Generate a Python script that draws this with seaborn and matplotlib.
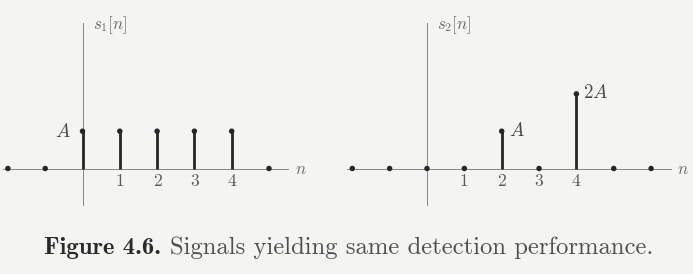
import matplotlib
matplotlib.use("Agg")
import matplotlib.pyplot as plt
import seaborn as sns

# ---- data ----
n1 = [-2, -1, 0, 1, 2, 3, 4, 5]
s1 = [0, 0, 1, 1, 1, 1, 1, 0]
n2 = [-2, -1, 0, 1, 2, 3, 4, 5, 6]
s2 = [0, 0, 0, 0, 1, 0, 2, 0, 0]
tick_vals = [1, 2, 3, 4]
tick_labels = ["1", "2", "3", "4"]
ylabels = [r"$s_1[n]$", r"$s_2[n]$"]
amp_labels_1 = {0: r"$A$"}
amp_labels_2 = {2: r"$A$", 4: r"$2A$"}
caption_bold = "Figure 4.6."
caption_text = "Signals yielding same detection performance."

sns.set_style("white")
plt.rcParams["mathtext.fontset"] = "cm"
plt.rcParams["axes.unicode_minus"] = False

BG = "#f4f4f2"
W, H = 693, 274
DPI = 72
fig = plt.figure(figsize=(W / DPI, H / DPI), dpi=DPI, facecolor=BG)

def px_axes(x0, y0, x1, y1):
    return fig.add_axes([x0 / W, 1 - y1 / H, (x1 - x0) / W, (y1 - y0) / H])

AX_Y = 168.5
UNIT_Y = 37.3

def draw(ax, n, s, hline, vline, ylabel, amps, amp_side, nlab_x):
    ax.vlines(n, 0, s, color="#262626", lw=2.8, zorder=3)
    sns.scatterplot(x=n, y=s, ax=ax, color="#262626", s=30, edgecolor="none",
                    zorder=4, legend=False)
    for sp in ["top", "right"]:
        ax.spines[sp].set_visible(False)
    ax.spines["bottom"].set_position(("data", 0))
    ax.spines["left"].set_position(("data", 0))
    ax.spines["bottom"].set_bounds(*hline)
    ax.spines["left"].set_bounds(*vline)
    for sp in ["bottom", "left"]:
        ax.spines[sp].set_color("#8a8a8a")
        ax.spines[sp].set_linewidth(1.0)
        ax.spines[sp].set_zorder(2)
    ax.set_xticks(tick_vals)
    ax.set_xticklabels(tick_labels, fontfamily="cmr10", fontsize=17.5, color="#5a5a5a")
    ax.tick_params(axis="x", length=0, pad=5.5)
    ax.set_yticks([])
    ax.text(0.27, (AX_Y - 25) / UNIT_Y, ylabel, fontsize=17, color="#6a6a6a",
            ha="left", va="center")
    ax.text(nlab_x, 0, r"$n$", fontsize=17, color="#6a6a6a", ha="left", va="center")
    for k, lab in amps.items():
        v = s[n.index(k)]
        if amp_side == "left":
            ax.annotate(lab, (k, v), xytext=(-12, 0), textcoords="offset points",
                        ha="right", va="center", fontsize=19, color="#4a4a4a")
        else:
            ax.annotate(lab, (k, v), xytext=(7, 1), textcoords="offset points",
                        ha="left", va="center", fontsize=19, color="#4a4a4a")

# left panel
ax1 = px_axes(0, 0, 340, 210)
ux1, z1 = 37.3, 82.5
ax1.set_xlim((0 - z1) / ux1, (340 - z1) / ux1)
ax1.set_ylim((AX_Y - 210) / UNIT_Y, AX_Y / UNIT_Y)
ax1.set_facecolor("none")
draw(ax1, n1, s1, ((3 - z1) / ux1, (288 - z1) / ux1),
     ((AX_Y - 205) / UNIT_Y, (AX_Y - 23) / UNIT_Y), ylabels[0], amp_labels_1, "left",
     (295 - z1) / ux1)

# right panel
ax2 = px_axes(340, 0, 693, 210)
ux2, z2 = 37.35, 427.0
ax2.set_xlim((340 - z2) / ux2, (693 - z2) / ux2)
ax2.set_ylim((AX_Y - 210) / UNIT_Y, AX_Y / UNIT_Y)
ax2.set_facecolor("none")
draw(ax2, n2, s2, ((347 - z2) / ux2, (671 - z2) / ux2),
     ((AX_Y - 205) / UNIT_Y, (AX_Y - 23) / UNIT_Y), ylabels[1], amp_labels_2, "right",
     (677 - z2) / ux2)

# caption
CAP_FS = 24.7
t1 = fig.text(44 / W, 1 - 254 / H, caption_bold, fontfamily="cmb10", fontsize=CAP_FS,
              color="#2a2a2a", ha="left", va="baseline")
fig.canvas.draw()
bb = t1.get_window_extent()
fig.text((bb.x1 + 9) / W, 1 - 254 / H, caption_text, fontfamily="cmr10", fontsize=CAP_FS,
         color="#505050", ha="left", va="baseline")

fig.savefig("out.png", dpi=DPI, facecolor=BG)
